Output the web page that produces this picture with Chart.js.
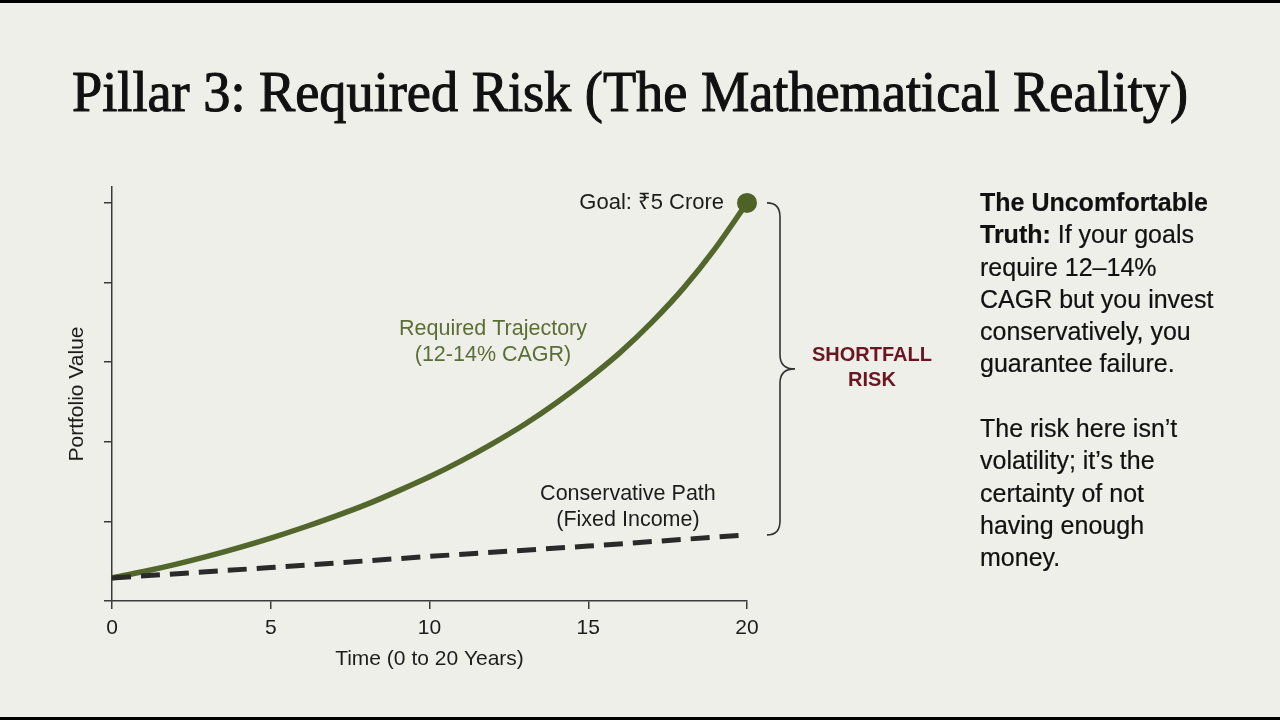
<!DOCTYPE html>
<html><head><meta charset="utf-8">
<script src="https://cdn.jsdelivr.net/npm/chart.js@4/dist/chart.umd.min.js"></script>
<style>
html,body{margin:0;padding:0;width:1280px;height:720px;background:#efefe9;overflow:hidden}
#bar-top,#bar-bot{position:absolute;left:0;width:1280px;background:#000}
#bar-top{top:0;height:3px}#bar-bot{bottom:0;height:3px}
#title{position:absolute;left:72px;top:63px;font-family:"Liberation Serif",serif;font-weight:400;font-size:57px;line-height:1;white-space:nowrap;color:#111;-webkit-text-stroke:1.1px #111;transform-origin:0 0}
#side{position:absolute;left:980px;top:186px;font-family:"Liberation Sans",Arial,sans-serif;font-size:25px;line-height:32.3px;color:#111;white-space:nowrap;-webkit-text-stroke:0.2px #111}
#side b{font-weight:700}
#wrap{position:absolute;left:0;top:0;width:1280px;height:720px}
</style></head>
<body>
<div id="wrap"><canvas id="c" width="1280" height="720"></canvas></div>
<div id="title">Pillar 3: Required Risk (The Mathematical Reality)</div>
<div id="side"><b>The Uncomfortable<br>Truth:</b> If your goals<br>require 12–14%<br>CAGR but you invest<br>conservatively, you<br>guarantee failure.<br><br>The risk here isn’t<br>volatility; it’s the<br>certainty of not<br>having enough<br>money.</div>
<div id="bar-top"></div><div id="bar-bot"></div>
<script>
// ---- data ----
const years = [0,1,2,3,4,5,6,7,8,9,10,11,12,13,14,15,16,17,18,19,20];
const requiredValues = [0.29,0.37,0.46,0.56,0.67,0.79,0.92,1.06,1.21,1.38,1.56,1.76,1.98,2.22,2.49,2.79,3.12,3.50,3.93,4.43,5.0];
const conservativeYears = [0,5,10,15,20];
const conservativeValues = [0.29,0.42,0.56,0.69,0.83];
const xTickValues = [0,5,10,15,20];
const yTickValues = [0,1,2,3,4,5];
const xAxisTitle = 'Time (0 to 20 Years)';
const yAxisTitle = 'Portfolio Value';
const goalLabel = 'Goal: ₹5 Crore';
const requiredLabel = ['Required Trajectory','(12-14% CAGR)'];
const conservativeLabel = ['Conservative Path','(Fixed Income)'];
const gapLabel = ['SHORTFALL','RISK'];

const GREEN = '#53672c';
const DARK = '#2a2a2a';
const AXIS = '#3a3a3a';
const SANS = '"Liberation Sans", Arial, "Noto Sans", sans-serif';

const annotations = {
  id: 'annotations',
  afterDatasetsDraw(chart) {
    const {ctx, scales: {x: xs, y: ys}} = chart;
    const last = requiredValues.length - 1;
    const gx = xs.getPixelForValue(years[last]);
    const gy = ys.getPixelForValue(requiredValues[last]);
    ctx.save();
    ctx.font = '22px ' + SANS;
    ctx.fillStyle = '#1c1c1c';
    ctx.textAlign = 'right';
    ctx.textBaseline = 'middle';
    ctx.fillText(goalLabel, gx - 23, gy);

    // required label
    ctx.font = '21.5px ' + SANS;
    ctx.textAlign = 'center';
    ctx.fillStyle = '#5a6e36';
    const rx = xs.getPixelForValue(12), ry = ys.getPixelForValue(3.25);
    ctx.fillText(requiredLabel[0], rx, ry - 13);
    ctx.fillText(requiredLabel[1], rx, ry + 13);

    // conservative label
    ctx.fillStyle = '#1c1c1c';
    const cx = xs.getPixelForValue(16.25), cy = ys.getPixelForValue(1.18);
    ctx.fillText(conservativeLabel[0], cx, cy - 13);
    ctx.fillText(conservativeLabel[1], cx, cy + 13);

    // brace
    const bx = gx + 33;
    const yTop = gy;
    const yBot = ys.getPixelForValue(conservativeValues[conservativeValues.length - 1]);
    const yMid = (yTop + yBot) / 2;
    ctx.strokeStyle = '#333';
    ctx.lineWidth = 1.6;
    ctx.beginPath();
    ctx.moveTo(bx - 13, yTop);
    ctx.quadraticCurveTo(bx, yTop, bx, yTop + 14);
    ctx.lineTo(bx, yMid - 14);
    ctx.quadraticCurveTo(bx, yMid, bx + 15, yMid);
    ctx.quadraticCurveTo(bx, yMid, bx, yMid + 14);
    ctx.lineTo(bx, yBot - 14);
    ctx.quadraticCurveTo(bx, yBot, bx - 13, yBot);
    ctx.stroke();

    // shortfall text
    ctx.font = 'bold 20px ' + SANS;
    ctx.fillStyle = '#6a1522';
    ctx.fillText(gapLabel[0], gx + 125, yMid - 13);
    ctx.fillText(gapLabel[1], gx + 125, yMid + 12);
    ctx.restore();
  }
};

const chart = new Chart(document.getElementById('c'), {
  type: 'line',
  data: {
    datasets: [
      {
        label: 'Conservative Path',
        data: conservativeYears.map((x, i) => ({x, y: conservativeValues[i]})),
        borderColor: DARK,
        borderWidth: 5,
        borderDash: [19, 10],
        pointRadius: 0,
        tension: 0,
        clip: false
      },
      {
        label: 'Required Trajectory',
        data: years.map((x, i) => ({x, y: requiredValues[i]})),
        borderColor: GREEN,
        backgroundColor: GREEN,
        borderWidth: 5.5,
        cubicInterpolationMode: 'monotone',
        pointRadius: c => c.dataIndex === years.length - 1 ? 10 : 0,
        pointBackgroundColor: '#4e6226',
        pointBorderWidth: 0,
        pointHoverRadius: 0,
        clip: false
      }
    ]
  },
  options: {
    responsive: false,
    animation: false,
    events: [],
    layout: { padding: { left: 61, right: 533, top: 187, bottom: 44 } },
    plugins: { legend: { display: false }, tooltip: { enabled: false } },
    scales: {
      x: {
        type: 'linear',
        min: 0, max: 20,
        afterBuildTicks: s => { s.ticks = xTickValues.map(v => ({value: v})); },
        afterFit: s => { s.height = 75; },
        ticks: { color: '#1c1c1c', font: { size: 21, family: SANS }, padding: 7, maxRotation: 0 },
        grid: { display: true, drawOnChartArea: false, drawTicks: true, tickLength: 8, color: AXIS, lineWidth: 1.5 },
        border: { display: true, color: AXIS, width: 1.5 },
        title: { display: true, text: xAxisTitle, color: '#1c1c1c', font: { size: 21, family: SANS }, padding: { top: 4, bottom: 4 } }
      },
      y: {
        min: 0, max: 5.2,
        afterBuildTicks: s => { s.ticks = yTickValues.map(v => ({value: v})); },
        afterFit: s => { s.width = 51; },
        ticks: { display: false },
        grid: { display: true, drawOnChartArea: false, drawTicks: true, tickLength: 8, color: AXIS, lineWidth: 1.5 },
        border: { display: true, color: AXIS, width: 1.5 },
        title: { display: true, text: yAxisTitle, color: '#1c1c1c', font: { size: 21, family: SANS }, padding: { top: 4, bottom: 4 } }
      }
    }
  },
  plugins: [annotations]
});

// fit title width to reference span
const t = document.getElementById('title');
const w = t.getBoundingClientRect().width;
t.style.transform = 'scaleX(' + (1116 / w) + ')';
</script>
</body></html>
